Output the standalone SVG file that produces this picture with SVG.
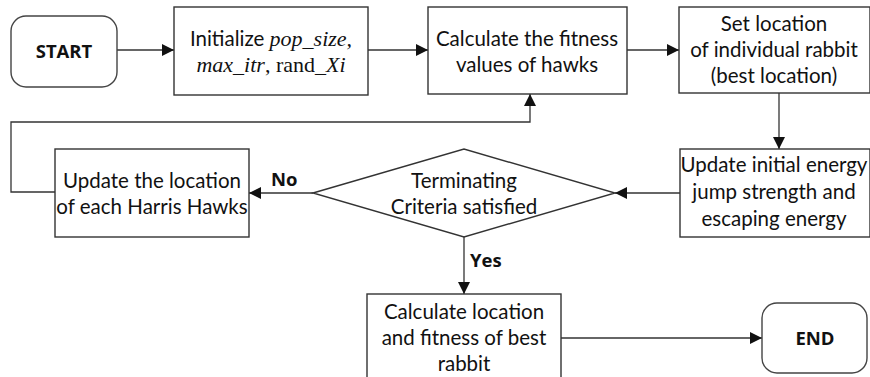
<svg xmlns="http://www.w3.org/2000/svg" width="870" height="377" viewBox="0 0 870 377">
  <style>
    .box { fill: #ffffff; stroke: #333333; stroke-width: 1.4; }
    .term { fill: #ffffff; stroke: #444444; stroke-width: 1.4; }
    .txt { font-family: Lato, "Liberation Sans", sans-serif; font-size: 20.5px; fill: #111111; text-anchor: middle; }
    .bold { font-family: "Open Sans", "Liberation Sans", sans-serif; font-size: 18.5px; font-weight: bold; fill: #111111; }
    .math { font-family: "Liberation Serif", serif; font-size: 22px; }
    .it { font-style: italic; }
    .link { fill: none; stroke: #333333; stroke-width: 1.3; }
  </style>
  <defs>
    <marker id="arrow" markerUnits="userSpaceOnUse" markerWidth="13" markerHeight="12" refX="12" refY="6" orient="auto">
      <path d="M0,0 L12,6 L0,12 z" fill="#111111"/>
    </marker>
  </defs>

  <g id="connectors">
    <line class="link" x1="117" y1="50" x2="174" y2="50" marker-end="url(#arrow)"/>
    <line class="link" x1="368" y1="50" x2="428" y2="50" marker-end="url(#arrow)"/>
    <line class="link" x1="627" y1="50" x2="679" y2="50" marker-end="url(#arrow)"/>
    <line class="link" x1="779" y1="93" x2="779" y2="149" marker-end="url(#arrow)"/>
    <line class="link" x1="680" y1="193" x2="615" y2="193" marker-end="url(#arrow)"/>
    <line class="link" x1="313" y1="193" x2="249" y2="193" marker-end="url(#arrow)"/>
    <polyline class="link" points="55,192 11,192 11,122 530,122 530,94" marker-end="url(#arrow)"/>
    <line class="link" x1="464" y1="237" x2="464" y2="294" marker-end="url(#arrow)"/>
    <line class="link" x1="561" y1="338" x2="762" y2="338" marker-end="url(#arrow)"/>
    <text class="bold" x="271" y="186">No</text>
    <text class="bold" x="470" y="267">Yes</text>
  </g>

  <g id="start">
    <rect class="term" x="11" y="16" width="106" height="71" rx="15"/>
    <text class="bold" x="64" y="58" text-anchor="middle">START</text>
  </g>

  <g id="init">
    <rect class="box" x="174" y="7" width="194" height="88"/>
    <text class="txt" x="271" y="46">Initialize <tspan class="math it">pop_size,</tspan></text>
    <text class="txt" x="271" y="72"><tspan class="math it">max_itr</tspan><tspan class="math">, rand_</tspan><tspan class="math it">Xi</tspan></text>
  </g>

  <g id="fitness">
    <rect class="box" x="428" y="7" width="199" height="87"/>
    <text class="txt" x="527" y="46">Calculate the fitness</text>
    <text class="txt" x="527" y="72">values of hawks</text>
  </g>

  <g id="rabbit">
    <rect class="box" x="679" y="7" width="191" height="86"/>
    <text class="txt" x="774" y="31">Set location</text>
    <text class="txt" x="774" y="57">of individual rabbit</text>
    <text class="txt" x="774" y="83">(best location)</text>
  </g>

  <g id="energy">
    <rect class="box" x="680" y="149" width="190" height="88"/>
    <text class="txt" x="774" y="172">Update initial energy</text>
    <text class="txt" x="774" y="199">jump strength and</text>
    <text class="txt" x="774" y="226">escaping energy</text>
  </g>

  <g id="criteria">
    <polygon class="box" points="313,193 464,149 615,193 464,237"/>
    <text class="txt" x="464" y="188">Terminating</text>
    <text class="txt" x="464" y="214">Criteria satisfied</text>
  </g>

  <g id="update">
    <rect class="box" x="55" y="149" width="194" height="88"/>
    <text class="txt" x="152" y="188">Update the location</text>
    <text class="txt" x="152" y="214">of each Harris Hawks</text>
  </g>

  <g id="best">
    <rect class="box" x="367" y="294" width="194" height="90"/>
    <text class="txt" x="464" y="319">Calculate location</text>
    <text class="txt" x="464" y="345">and fitness of best</text>
    <text class="txt" x="464" y="371">rabbit</text>
  </g>

  <g id="end">
    <rect class="term" x="762" y="303" width="105" height="70" rx="15"/>
    <text class="bold" x="815" y="345" text-anchor="middle">END</text>
  </g>
</svg>
